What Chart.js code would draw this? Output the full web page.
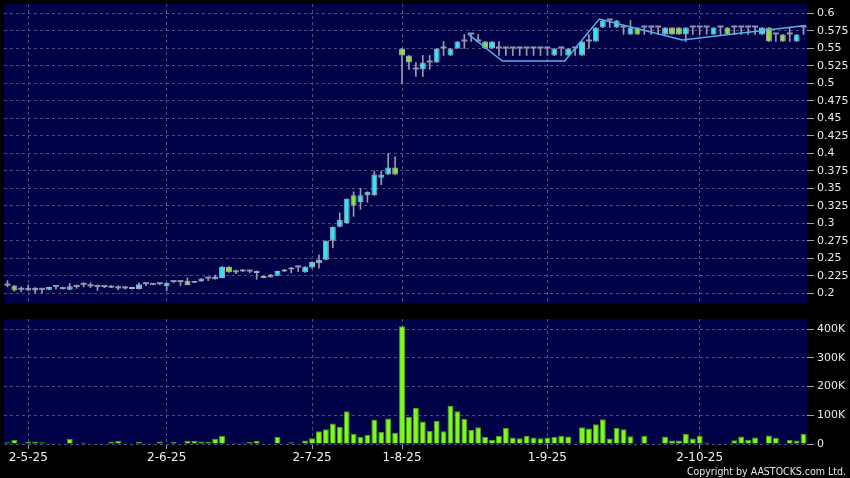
<!DOCTYPE html>
<html>
<head>
<meta charset="utf-8">
<script src="https://cdn.jsdelivr.net/npm/chart.js@4.4.1/dist/chart.umd.min.js"></script>
<style>
body { margin: 0; background: #000; width: 850px; height: 478px; overflow: hidden; position: relative; }
#priceChart { position: absolute; left: 0; top: 0; }
#volChart { position: absolute; left: 0; top: 310px; }
#copy { position: absolute; right: 4px; top: 465px; font: 10.5px "DejaVu Sans Condensed", "DejaVu Sans", sans-serif; color: #e6e6e6; white-space: nowrap; }
</style>
</head>
<body>
<canvas id="priceChart" width="850" height="308"></canvas>
<canvas id="volChart" width="850" height="168"></canvas>
<div id="copy">Copyright by AASTOCKS.com Ltd.</div>
<script>
// daily candles, one per trading day
var opens = [
  0.211,0.211,0.205,0.204,0.208,0.205,0.205,0.209,0.206,0.205,
  0.209,0.212,0.210,0.209,0.209,0.208,0.207,0.207,0.206,0.206,
  0.213,0.212,0.213,0.210,0.216,0.216,0.218,0.215,0.217,0.221,
  0.220,0.222,0.238,0.230,0.234,0.231,0.232,0.225,0.223,0.225,
  0.231,0.234,0.237,0.230,0.237,0.243,0.248,0.275,0.295,0.300,
  0.340,0.330,0.340,0.340,0.365,0.370,0.380,0.550,0.540,0.520,
  0.520,0.530,0.530,0.550,0.540,0.550,0.560,0.570,0.560,0.560,
  0.550,0.550,0.550,0.550,0.550,0.550,0.550,0.550,0.550,0.540,
  0.550,0.540,0.550,0.540,0.560,0.560,0.580,0.590,0.580,0.580,
  0.570,0.580,0.580,0.580,0.580,0.570,0.580,0.580,0.570,0.580,
  0.580,0.580,0.570,0.580,0.580,0.580,0.580,0.580,0.580,0.570,
  0.580,0.570,0.570,0.570,0.560,0.580
];
var highs = [
  0.218,0.211,0.209,0.212,0.208,0.207,0.209,0.211,0.209,0.214,
  0.212,0.215,0.215,0.212,0.210,0.211,0.211,0.210,0.209,0.215,
  0.215,0.213,0.214,0.215,0.216,0.216,0.222,0.217,0.221,0.223,
  0.226,0.238,0.238,0.233,0.234,0.233,0.232,0.225,0.227,0.232,
  0.234,0.237,0.237,0.238,0.245,0.255,0.275,0.295,0.315,0.335,
  0.345,0.350,0.345,0.375,0.375,0.400,0.395,0.550,0.540,0.530,
  0.540,0.540,0.550,0.560,0.550,0.560,0.570,0.570,0.570,0.560,
  0.560,0.560,0.550,0.550,0.550,0.550,0.550,0.550,0.550,0.550,
  0.550,0.550,0.550,0.560,0.570,0.580,0.590,0.590,0.590,0.580,
  0.590,0.580,0.580,0.580,0.580,0.580,0.580,0.580,0.580,0.580,
  0.580,0.580,0.580,0.580,0.580,0.580,0.580,0.580,0.580,0.580,
  0.580,0.570,0.570,0.580,0.570,0.580
];
var lows = [
  0.209,0.203,0.202,0.204,0.200,0.200,0.205,0.206,0.206,0.205,
  0.207,0.209,0.208,0.204,0.208,0.208,0.205,0.206,0.206,0.206,
  0.211,0.212,0.212,0.204,0.215,0.211,0.212,0.215,0.217,0.218,
  0.220,0.222,0.230,0.228,0.231,0.229,0.220,0.222,0.223,0.225,
  0.231,0.229,0.231,0.230,0.236,0.236,0.248,0.265,0.295,0.300,
  0.310,0.320,0.330,0.340,0.355,0.370,0.370,0.500,0.520,0.510,
  0.510,0.520,0.530,0.540,0.540,0.550,0.550,0.560,0.560,0.550,
  0.550,0.540,0.540,0.540,0.540,0.540,0.540,0.540,0.540,0.540,
  0.540,0.540,0.540,0.540,0.550,0.560,0.580,0.580,0.580,0.570,
  0.570,0.570,0.570,0.570,0.570,0.570,0.570,0.570,0.560,0.570,
  0.570,0.570,0.570,0.570,0.570,0.570,0.570,0.570,0.570,0.570,
  0.560,0.560,0.560,0.560,0.560,0.570
];
var closes = [
  0.211,0.204,0.205,0.208,0.204,0.205,0.209,0.209,0.206,0.210,
  0.209,0.212,0.210,0.209,0.209,0.211,0.207,0.207,0.209,0.213,
  0.213,0.212,0.213,0.215,0.216,0.216,0.212,0.217,0.221,0.221,
  0.224,0.238,0.230,0.230,0.231,0.231,0.229,0.222,0.227,0.232,
  0.234,0.237,0.237,0.238,0.245,0.248,0.275,0.295,0.305,0.335,
  0.325,0.340,0.345,0.370,0.370,0.380,0.370,0.540,0.530,0.520,
  0.530,0.530,0.550,0.550,0.550,0.560,0.560,0.570,0.560,0.550,
  0.560,0.550,0.550,0.550,0.550,0.550,0.550,0.550,0.550,0.550,
  0.550,0.550,0.550,0.560,0.560,0.580,0.590,0.590,0.590,0.580,
  0.580,0.570,0.580,0.580,0.580,0.580,0.570,0.570,0.580,0.580,
  0.580,0.580,0.580,0.580,0.570,0.580,0.580,0.580,0.580,0.580,
  0.560,0.570,0.560,0.570,0.570,0.580
];
var volumes = [
  6000,15000,3000,8000,8000,6000,3000,3000,3000,18000,
  2000,5000,3000,1000,3000,9000,11000,1000,1000,8000,
  1000,3000,9000,2000,7000,2000,11000,11000,9000,7000,
  18000,29000,2000,4000,4000,7000,11000,3000,1000,24000,
  1000,6000,1000,12000,20000,44000,51000,71000,60000,114000,
  36000,25000,31000,85000,43000,89000,38000,410000,95000,125000,
  78000,45000,80000,44000,133000,114000,87000,49000,58000,24000,
  14000,28000,56000,23000,20000,28000,23000,20000,23000,25000,
  28000,26000,3000,58000,54000,69000,86000,19000,56000,51000,
  27000,1000,28000,1000,1000,26000,12000,12000,36000,19000,
  28000,5000,2000,2000,3000,13000,26000,15000,23000,2000,
  30000,22000,2000,14000,12000,36000
];
// light blue overlay line (day position, price)
var lineX = [66.5, 71.5, 80.5, 85.5, 97.5, 115.3];
var lineY = [0.571, 0.532, 0.532, 0.592, 0.562, 0.583];
// x axis labels and the day they sit on
var tickIdx = [3, 23, 44, 57, 78, 100];
var tickText = ['2-5-25', '2-6-25', '2-7-25', '1-8-25', '1-9-25', '2-10-25'];
var priceRange = [0.1861, 0.6136];
var priceStep = 0.025;
var volRange = [0, 435000];
var volTickVals = [0, 100000, 200000, 300000, 400000];

Chart.defaults.font.family = '"DejaVu Sans", sans-serif';

var days = opens.map(function(o, i) { return i; });
var wicks = lows.map(function(l, i) { return [l, highs[i]]; });
var bodies = opens.map(function(o, i) { return [o, closes[i]]; });
var trend = lineX.map(function(x, i) { return { x: x, y: lineY[i] }; });

var gridCol = '#4e4e86';
var tickCol = '#a0a0a8';

var plotBg = {
  id: 'plotBg',
  beforeDraw: function(chart) {
    var a = chart.chartArea, c = chart.ctx;
    c.save();
    c.fillStyle = '#000046';
    c.fillRect(a.left, a.top, a.right - a.left, a.bottom - a.top);
    c.restore();
  }
};

function onlyTicks(s) {
  s.ticks = tickIdx.map(function(v) { return { value: v }; });
}

// fixed axis width, and no extra room for the end labels
function rightAxisFit(s) {
  s.width = 43;
  s.paddingTop = 0;
  s.paddingBottom = 0;
}

function bodyColor(ctx) {
  var i = ctx.dataIndex;
  if (closes[i] > opens[i]) return '#36e4f0';
  if (closes[i] < opens[i]) return '#8ade3e';
  return '#9494aa';
}

var priceChart = new Chart(document.getElementById('priceChart'), {
  type: 'bar',
  data: {
    labels: days,
    datasets: [{
      data: wicks,
      backgroundColor: '#9a9aae',
      barThickness: 1,
      grouped: false,
      order: 2
    }, {
      data: bodies,
      backgroundColor: bodyColor,
      borderColor: '#a8a8bc',
      borderWidth: function(ctx) { var i = ctx.dataIndex; return opens[i] === closes[i] ? 0 : 1; },
      borderSkipped: false,
      minBarLength: 2,
      barPercentage: 0.86,
      categoryPercentage: 1,
      grouped: false,
      order: 1
    }, {
      type: 'line',
      xAxisID: 'x2',
      data: trend,
      borderColor: '#56b0ea',
      borderWidth: 1.5,
      pointRadius: 0,
      order: 0
    }]
  },
  options: {
    responsive: false,
    animation: false,
    layout: { padding: { left: 4, top: 4, right: 0, bottom: 5 } },
    plugins: { legend: { display: false }, tooltip: { enabled: false } },
    scales: {
      x: {
        offset: true,
        afterBuildTicks: onlyTicks,
        afterFit: function(s) { s.height = 0; },
        ticks: { display: false, autoSkip: false },
        grid: { offset: false, color: gridCol, drawTicks: false },
        border: { display: false, dash: [3, 3] }
      },
      x2: {
        type: 'linear',
        display: false,
        offset: false,
        bounds: 'data',
        min: -0.5,
        max: 115.5,
        afterBuildTicks: function(s) { s.ticks = [{ value: -0.5 }, { value: 115.5 }]; }
      },
      y: {
        position: 'right',
        min: priceRange[0],
        max: priceRange[1],
        afterFit: rightAxisFit,
        ticks: {
          stepSize: priceStep,
          includeBounds: false,
          color: '#e8e8e8',
          font: { size: 11 },
          padding: 3,
          callback: function(v) { return String(Number(v.toFixed(3))); }
        },
        grid: { color: gridCol, tickColor: tickCol, tickLength: 7 },
        border: { display: false, dash: [3, 3] }
      }
    }
  },
  plugins: [plotBg]
});

var volChart = new Chart(document.getElementById('volChart'), {
  type: 'bar',
  data: {
    labels: days,
    datasets: [{
      data: volumes,
      backgroundColor: '#80f81e',
      borderColor: '#4aa012',
      borderWidth: 1,
      barPercentage: 0.86,
      categoryPercentage: 1
    }]
  },
  options: {
    responsive: false,
    animation: false,
    layout: { padding: { left: 4, top: 9, right: 0, bottom: 0 } },
    plugins: { legend: { display: false }, tooltip: { enabled: false } },
    scales: {
      x: {
        offset: true,
        afterBuildTicks: onlyTicks,
        afterFit: function(s) { s.height = 34; },
        ticks: {
          autoSkip: false,
          maxRotation: 0,
          color: '#f0f0f0',
          font: { size: 12 },
          padding: 2,
          callback: function(v) { return tickText[tickIdx.indexOf(v)]; }
        },
        grid: { offset: false, color: gridCol, tickColor: tickCol, tickLength: 5 },
        border: { display: false, dash: [3, 3] }
      },
      y: {
        position: 'right',
        min: volRange[0],
        max: volRange[1],
        afterBuildTicks: function(s) { s.ticks = volTickVals.map(function(v) { return { value: v }; }); },
        afterFit: rightAxisFit,
        ticks: {
          color: '#e8e8e8',
          font: { size: 11 },
          padding: 3,
          callback: function(v) { return v === 0 ? '0' : (v / 1000) + 'K'; }
        },
        grid: { color: gridCol, tickColor: tickCol, tickLength: 7 },
        border: { display: false, dash: [3, 3] }
      }
    }
  },
  plugins: [plotBg]
});
</script>
</body>
</html>
